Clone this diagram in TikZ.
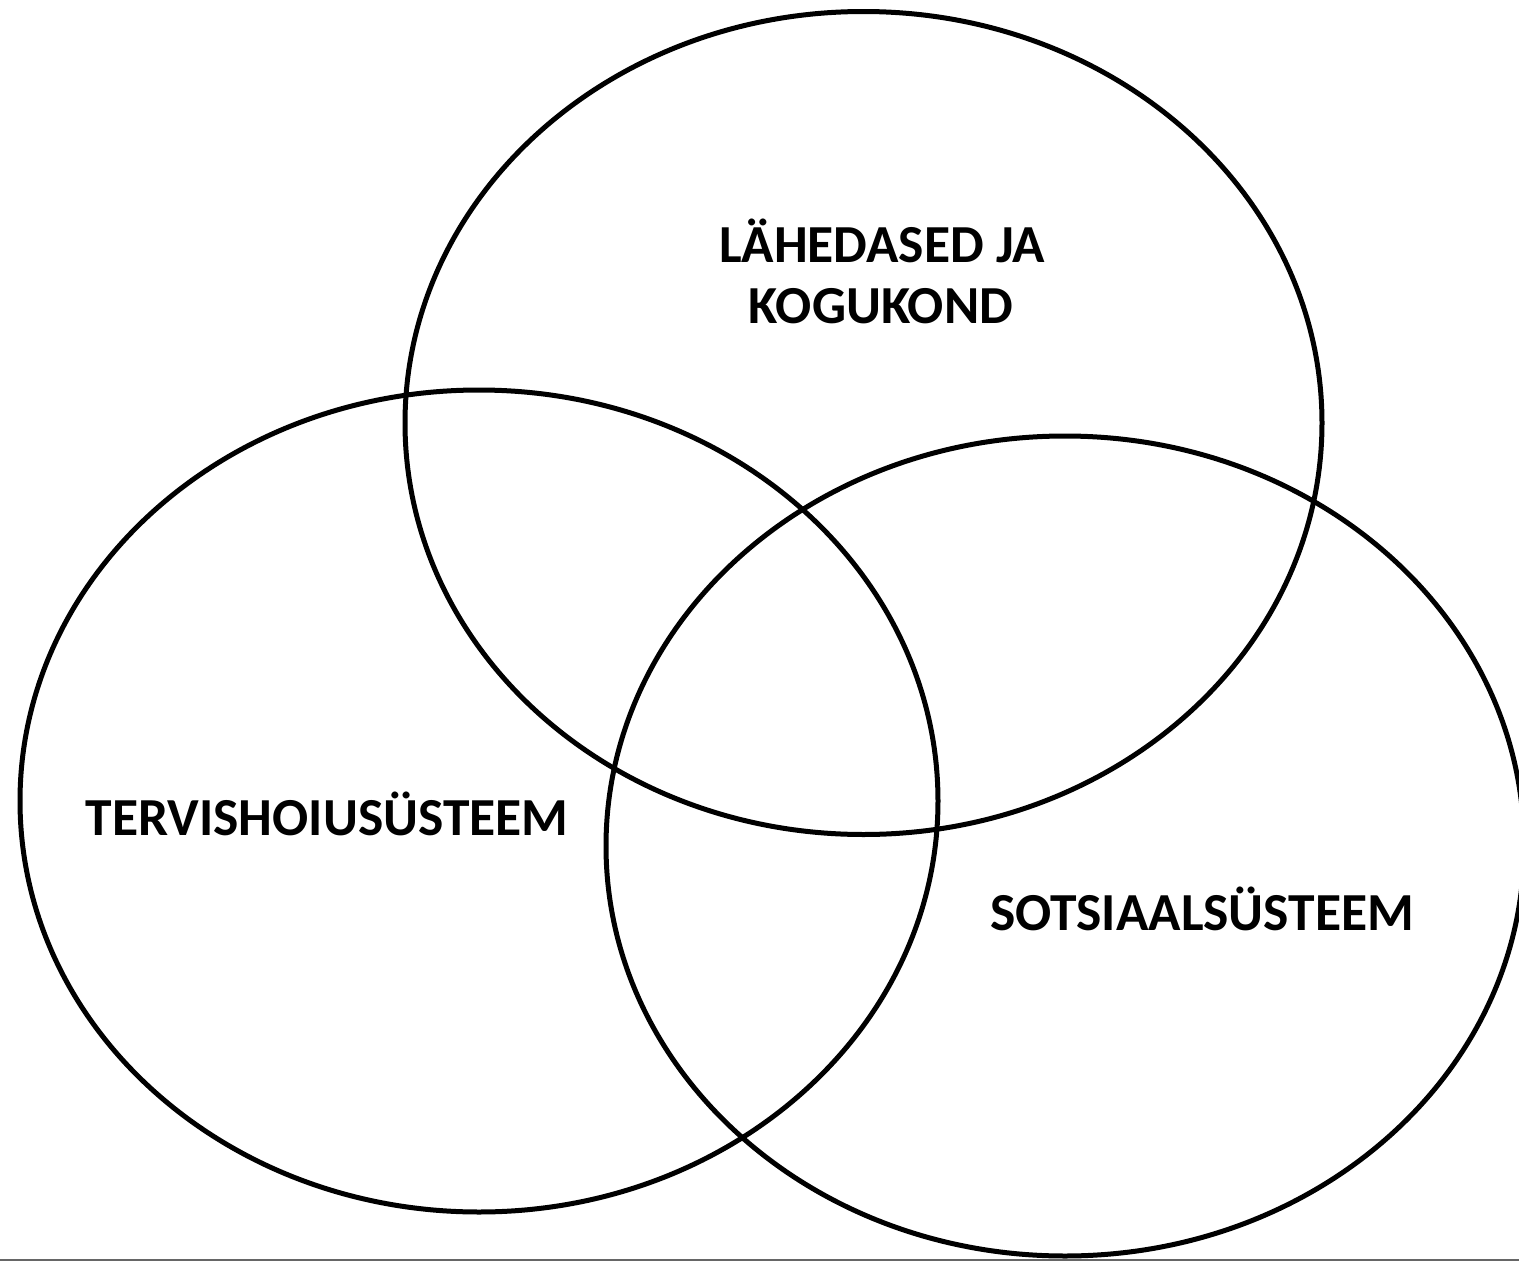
\documentclass[tikz,border=0pt]{standalone}
\usepackage{fontspec}
\setmainfont{Carlito}
\begin{document}
\begin{tikzpicture}[x=1pt,y=-1pt,
  ring/.style={draw=black,line width=5pt},
  lbl/.style={font=\fontsize{53.5}{62}\selectfont\bfseries,inner sep=0pt,anchor=base,align=center}]
\useasboundingbox (0,0) rectangle (1519,1261);
\clip (0,0) rectangle (1519,1261);
\fill[white] (0,0) rectangle (1519,1261);
\draw[ring] (863.5,423) ellipse [x radius=458.5, y radius=411.5];
\draw[ring] (479,801) ellipse [x radius=459, y radius=411];
\draw[ring] (1065,846) ellipse [x radius=459, y radius=410];
\draw[gray!80!black,line width=2pt] (0,1259.5) -- (1519,1259.5);
\node[lbl] (top1) at (882,262) {LÄHEDASED JA};
\node[lbl] (top2) at (881,323) {KOGUKOND};
\node[lbl] (left) at (327,835) {TERVISHOIUSÜSTEEM};
\node[lbl] (right) at (1202,930) {SOTSIAALSÜSTEEM};
\end{tikzpicture}
\end{document}
